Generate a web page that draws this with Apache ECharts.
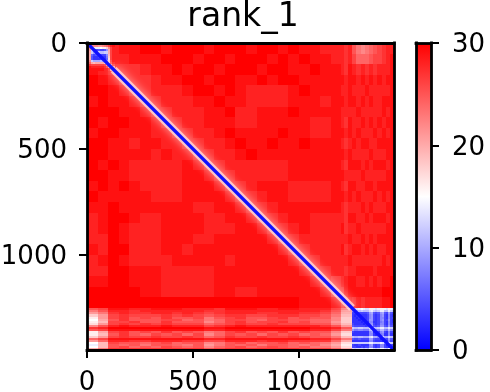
<!DOCTYPE html>
<html><head><meta charset="utf-8">
<style>html,body{margin:0;padding:0;background:#fff}#c{width:490px;height:392px}</style>
<script src="https://cdn.jsdelivr.net/npm/echarts@6/dist/echarts.min.js"></script>
</head><body><div id="c"></div>
<script>
const titleText = 'rank_1';
const xTicks = [0, 500, 1000];
const yTicks = [0, 500, 1000];
const cbTicks = [0, 10, 20, 30];
const axisMax = 1448;
const fieldStep = 50;
const field = [
[28,28,28,29,29,30,30,29,30,30,30,29,30,30,30,29,30,30,29,30,29,29,28,28,28],
[28,28,28,28,29,29,29,30,30,30,29,30,30,29,30,30,30,29,30,29,30,29,29,28,28],
[29,28,27,27,27,28,29,29,30,29,30,30,29,30,30,30,29,30,30,29,29,30,29,29,28],
[30,29,28,27,27,27,28,29,29,30,30,29,30,30,29,29,30,29,30,30,29,29,29,29,29],
[30,30,29,28,27,27,28,28,28,29,30,30,29,30,29,28,28,28,28,29,30,29,29,29,28],
[29,30,29,29,28,27,27,28,28,28,29,29,30,29,29,28,28,28,28,29,29,29,28,29,29],
[30,30,30,29,29,28,27,27,28,28,28,29,29,30,28,28,29,29,29,30,29,29,29,29,28],
[30,29,30,30,29,29,28,27,27,28,28,29,29,29,28,28,29,29,29,29,29,28,28,29,28],
[29,30,30,29,29,29,28,28,27,27,28,28,29,30,29,29,29,29,30,29,29,28,28,29,29],
[30,30,29,29,28,29,29,28,28,27,27,28,28,29,30,29,29,30,29,29,30,29,29,29,28],
[30,30,29,29,29,29,28,29,28,28,27,27,28,28,29,30,29,29,29,29,29,29,29,29,29],
[30,29,30,29,28,28,28,28,28,29,28,27,27,28,28,28,28,28,28,29,29,29,29,29,28],
[30,30,29,29,28,28,28,28,28,29,29,28,27,27,28,28,28,28,28,29,29,29,29,29,29],
[29,30,29,30,29,28,28,28,28,29,29,29,28,27,27,28,29,29,29,28,28,28,28,29,28],
[30,29,29,29,29,29,28,28,28,29,29,29,29,28,27,27,28,29,29,28,28,28,28,29,29],
[29,29,30,29,29,29,29,29,29,29,28,28,29,29,28,27,27,28,29,29,29,29,29,29,28],
[28,29,30,30,29,28,28,29,29,29,29,28,28,29,29,28,27,27,28,29,29,28,28,28,28],
[28,29,30,29,28,28,28,29,29,29,29,28,28,28,29,29,28,27,27,28,29,28,28,28,29],
[28,28,30,29,28,28,28,29,29,29,28,28,29,29,29,29,29,28,27,27,28,28,28,28,28],
[29,28,30,30,28,28,28,29,29,28,29,29,29,29,29,29,29,29,28,27,27,28,28,28,29],
[28,29,30,29,28,28,28,28,29,29,29,29,29,28,29,29,29,29,29,28,27,27,28,28,28],
[28,28,30,30,29,29,29,28,28,28,28,28,29,29,29,29,29,29,29,29,28,27,27,28,28],
[29,29,30,30,29,29,29,28,28,28,28,28,29,29,29,29,29,29,29,29,29,28,27,26,27],
[30,30,30,30,30,29,29,28,28,28,28,28,29,29,28,28,29,29,29,29,29,29,28,26,26],
[30,30,30,30,30,30,30,30,30,30,30,30,30,30,30,30,30,30,30,30,29,29,29,28,26]
];
const stripStart = 1250;
const stripRowStep = 10;
const bottomStrip = [
[25,26,29,29,28,28,29,29,29,28,28,28,27,29,29,29,28,28,29,29,28,28,28,26,23],
[23,25,28,28,27,28,28,28,28,28,28,27,27,28,28,28,28,28,28,28,28,28,27,25,21],
[21,23,27,28,27,27,28,28,27,28,27,26,27,28,28,28,27,27,28,28,27,27,26,24,20],
[18,21,26,27,26,26,26,27,26,27,26,25,26,27,27,26,26,27,27,27,26,26,25,23,19],
[16,21,26,27,25,26,25,27,25,25,26,23,25,26,27,25,25,26,27,25,26,25,25,22,18],
[15,20,25,27,25,25,25,26,26,24,25,23,24,26,26,25,24,26,26,25,25,24,24,22,18],
[16,19,26,26,27,25,25,27,25,25,25,22,24,26,27,25,26,26,27,25,26,24,24,21,18],
[17,21,26,27,26,27,26,27,26,26,26,24,25,26,27,26,26,27,26,26,26,25,25,22,19],
[22,25,28,29,28,28,28,29,28,28,28,26,27,28,29,28,28,28,28,28,28,28,27,25,21],
[27,28,30,30,30,30,30,30,30,30,30,29,29,30,30,30,30,30,30,30,30,29,29,28,25],
[25,26,29,29,29,29,29,29,29,29,29,28,28,29,29,29,29,29,29,29,29,28,28,26,23],
[16,20,26,27,25,26,25,27,25,26,25,23,24,26,27,25,26,25,27,25,26,25,25,22,18],
[16,19,25,27,25,24,26,25,26,24,26,22,24,26,25,26,24,26,25,26,24,25,24,21,17],
[18,21,26,27,26,26,27,26,26,27,26,24,25,27,26,26,27,26,26,27,26,25,25,23,19],
[24,26,29,29,29,29,29,29,29,29,29,28,28,29,29,29,29,29,29,29,29,28,28,26,23],
[21,24,28,28,27,27,28,28,28,27,27,26,26,28,28,28,27,28,28,27,27,27,27,24,20],
[15,19,26,25,25,24,25,26,24,25,25,22,23,25,26,24,25,25,26,24,25,24,23,21,17],
[14,19,25,24,25,23,25,25,24,23,25,21,23,25,24,25,23,25,25,24,23,24,22,20,16],
[15,19,25,26,24,25,24,26,25,24,25,22,24,25,26,24,25,26,25,24,25,23,23,21,17],
[20,23,27,27,27,27,27,27,27,27,27,25,26,27,27,27,27,27,27,27,26,26,26,24,20]
];
const rightStart = 1210;
const rightColStep = 20;
const rightStrip = [
[27,28,25,23,22,23,24,25,26,27,28,28],
[27,28,26,24,24,24,25,26,26,27,28,29],
[27,29,28,27,28,27,28,27,28,28,28,29],
[28,29,29,28,29,28,29,28,29,28,29,29],
[28,29,28,28,28,29,28,28,28,28,28,29],
[28,29,29,28,29,28,29,28,28,29,29,29],
[28,28,28,29,28,28,28,28,28,29,28,29],
[27,29,28,28,29,28,29,28,29,28,29,29],
[28,29,28,29,28,28,28,29,28,29,28,29],
[27,28,29,28,29,29,28,28,29,29,29,29],
[28,29,28,28,28,28,29,28,28,28,29,29],
[27,29,29,29,28,29,28,29,29,29,28,29],
[28,28,28,28,29,28,28,28,28,28,29,29],
[27,29,29,28,28,29,29,28,29,29,29,29],
[28,29,28,29,28,28,28,29,28,29,28,29],
[27,28,28,28,29,28,29,28,28,28,29,29],
[27,29,29,28,28,29,28,29,29,29,28,29],
[27,28,28,29,28,28,28,28,28,28,29,29],
[28,29,28,28,29,28,29,28,29,29,29,29],
[27,28,29,29,28,29,28,29,28,28,29,29],
[28,29,28,28,28,28,28,28,28,29,28,29],
[27,28,28,29,29,29,29,28,29,29,29,29],
[28,29,29,28,28,29,28,29,28,29,29,30],
[28,29,29,29,29,29,29,29,29,30,30,30],
[27,28,27,28,27,28,28,28,28,29,29,30]
];
const cornerStep = 10;
const corner = [
[10,12,13,14,15,14,13,13,16,16,14,13,14,16,16,14,13,16,14,13],
[ 7, 8,10,11,12,11,11,11,13,14,12,11,12,14,14,11,11,14,12,11],
[ 3, 3, 4, 4, 4, 4, 4, 5, 9,10, 5, 4, 5, 9,10, 5, 4, 9, 5, 4],
[ 3, 2, 3, 3, 3, 3, 3, 4, 8, 9, 4, 3, 4, 8, 9, 4, 3, 8, 4, 3],
[ 3, 3, 2, 3, 3, 3, 3, 4, 8, 9, 4, 3, 4, 8, 8, 4, 3, 8, 4, 4],
[ 3, 3, 3, 2, 3, 3, 3, 4, 9, 9, 4, 3, 4, 8, 9, 4, 4, 9, 4, 3],
[ 3, 3, 3, 3, 2, 3, 3, 3, 8, 8, 3, 3, 4, 7, 8, 4, 3, 8, 4, 3],
[ 4, 3, 3, 3, 3, 2, 3, 3, 8, 9, 4, 3, 4, 8, 8, 4, 3, 8, 4, 4],
[ 5, 4, 4, 4, 4, 4, 3, 4, 9,10, 5, 4, 5, 9, 9, 5, 4, 9, 5, 5],
[12,11,11,12,12,11,11,11,14,15,12,11,12,14,14,11,11,14,12,12],
[ 9, 7, 7, 8, 8, 7, 7, 7,11,12, 8, 7, 8,11,11, 8, 7,11, 8, 8],
[ 4, 3, 3, 3, 3, 3, 3, 3, 8, 9, 2, 3, 4, 8, 9, 4, 3, 8, 4, 4],
[ 3, 3, 3, 3, 3, 3, 3, 3, 8, 8, 3, 2, 3, 7, 8, 3, 3, 8, 3, 3],
[11,10,10,11,11,10,10,10,13,14,10,10, 8,13,13,10,10,13,11,11],
[ 5, 4, 4, 5, 4, 4, 4, 4, 9, 9, 5, 4, 4, 2, 9, 5, 4, 9, 5, 5],
[ 3, 3, 3, 3, 3, 3, 3, 3, 8, 8, 4, 3, 3, 3, 2, 4, 3, 8, 4, 4],
[12,12,12,12,12,12,12,12,14,14,12,12,12,14,13, 8,12,14,12,12],
[ 4, 3, 3, 4, 3, 3, 3, 3, 8, 9, 4, 3, 4, 8, 8, 4, 2, 8, 4, 4],
[ 4, 4, 3, 3, 4, 3, 4, 4, 8, 8, 4, 3, 4, 8, 8, 4, 3, 2, 4, 4],
[13,12,13,13,13,12,13,12,15,15,13,12,13,15,15,13,12,15, 8, 2]
];
const blockStep = 10;
const topBlock = [
[ 8,24,27,27,27,27,27,27,28,28,28,29,29],
[24, 8,22,22,22,21,21,22,23,24,26,28,29],
[27,22, 8,16,14,14,15,16,16,18,22,26,28],
[27,21,13, 6, 4, 5, 4, 4, 5, 9,20,26,28],
[27,20,12, 9, 6,12,11,11,12,12,20,26,28],
[27,20, 6, 4, 5, 6, 4, 4, 4, 8,19,26,28],
[27,20, 5, 3, 3, 4, 5, 3, 3, 7,18,26,28],
[27,20, 5, 3, 3, 3, 4, 6, 3, 6,17,26,28],
[28,22,12,10,10,10,11,10, 6, 9,18,25,28],
[28,24,20,19,20,20,20,20,18, 6,17,24,27],
[29,27,26,26,26,26,26,26,25,20, 8,20,25],
[30,29,28,28,28,28,28,28,27,25,20, 8,20],
[30,29,29,29,29,29,29,29,28,28,26,20,10]
];
const haloDiagonal = [[125,125],[1250,1250]];
const coreDiagonal = [[0,0],[1448,1448]];
const bwr = ['#0000ff','#ffffff','#ff0000'];
const cbRange = [0, 30];

const cells = [];
function addLayer(m, x0, y0, dx, dy){
  m.forEach((row, j) => row.forEach((v, i) => {
    cells.push([x0+i*dx, x0+(i+1)*dx, y0+j*dy, y0+(j+1)*dy, v]);
  }));
}
addLayer(field, 0, 0, fieldStep, fieldStep);
addLayer(rightStrip, rightStart, 0, rightColStep, fieldStep);
addLayer(bottomStrip, 0, stripStart, fieldStep, stripRowStep);
addLayer(corner, stripStart, stripStart, cornerStep, cornerStep);
addLayer(topBlock, 0, 0, blockStep, blockStep);

const plainNum = (v) => String(v);
const font = {fontFamily:'DejaVu Sans', fontSize:26, color:'#000', formatter:plainNum};
const vFont = {fontFamily:'DejaVu Sans', fontSize:26, color:'#000',
  formatter:(v) => '{n|' + v + '}',
  rich:{n:{fontFamily:'DejaVu Sans', fontSize:26, color:'#000', padding:[5,0,0,0]}}};
const spine = {show:true, onZero:false, lineStyle:{color:'#000', width:2.8, cap:'square'}};
const bareAxis = (o) => Object.assign({type:'value', min:0, max:axisMax, z:10, axisLine:spine,
  axisTick:{show:false}, axisLabel:{show:false}, splitLine:{show:false}}, o);
const tickStyle = {show:true, length:8, lineStyle:{color:'#000', width:2}};

const chart = echarts.init(document.getElementById('c'), null, {renderer:'canvas'});
chart.setOption({
  animation:false,
  backgroundColor:'#fff',
  title:{text:titleText, left:238, top:-4, textAlign:'center',
    textStyle:{fontFamily:'DejaVu Sans', fontSize:33, fontWeight:'normal', color:'#000'}},
  grid:[
    {left:87, top:43, width:307, height:307, show:false, outerBoundsMode:'none'},
    {left:416, top:43, width:15, height:307, show:false, outerBoundsMode:'none'}
  ],
  visualMap:{show:false, type:'continuous', min:cbRange[0], max:cbRange[1], dimension:4, seriesIndex:0,
    inRange:{color:bwr}},
  xAxis:[
    bareAxis({gridIndex:0, position:'bottom',
      axisTick:Object.assign({customValues:xTicks}, tickStyle),
      axisLabel:Object.assign({show:true, customValues:xTicks, margin:20, hideOverlap:false}, font)}),
    bareAxis({gridIndex:0, position:'top'}),
    {gridIndex:1, type:'value', min:0, max:1, position:'bottom', z:10, axisLine:spine, axisTick:{show:false}, axisLabel:{show:false}, splitLine:{show:false}},
    {gridIndex:1, type:'value', min:0, max:1, position:'top', z:10, axisLine:spine, axisTick:{show:false}, axisLabel:{show:false}, splitLine:{show:false}}
  ],
  yAxis:[
    bareAxis({gridIndex:0, inverse:true, position:'left',
      axisTick:Object.assign({customValues:yTicks}, tickStyle),
      axisLabel:Object.assign({show:true, customValues:yTicks, margin:20}, vFont)}),
    bareAxis({gridIndex:0, inverse:true, position:'right'}),
    {gridIndex:1, type:'value', min:cbRange[0], max:cbRange[1], position:'right', z:10, axisLine:spine,
      axisTick:Object.assign({customValues:cbTicks}, tickStyle),
      axisLabel:Object.assign({show:true, customValues:cbTicks, margin:21}, vFont), splitLine:{show:false}},
    {gridIndex:1, type:'value', min:cbRange[0], max:cbRange[1], position:'left', z:10, axisLine:spine, axisTick:{show:false}, axisLabel:{show:false}, splitLine:{show:false}}
  ],
  series:[
    {type:'custom', xAxisIndex:0, yAxisIndex:0, data:cells, progressive:0, silent:true, clip:true,
      encode:{x:[0,1], y:[2,3]},
      renderItem(params, api){
        const a = api.coord([api.value(0), api.value(2)]);
        const b = api.coord([api.value(1), api.value(3)]);
        const x = Math.round(a[0]), y = Math.round(a[1]);
        return {type:'rect', shape:{x, y, width:Math.round(b[0])-x, height:Math.round(b[1])-y},
          style:{fill:api.visual('color')}};
      }},
    {type:'line', xAxisIndex:0, yAxisIndex:0, data:haloDiagonal, showSymbol:false, silent:true, z:3,
      lineStyle:{color:'#ffffff', width:8, opacity:0.6, shadowColor:'#ffffff', shadowBlur:10}},
    {type:'line', xAxisIndex:0, yAxisIndex:0, data:coreDiagonal, showSymbol:false, silent:true, z:4,
      lineStyle:{color:'#1010ff', width:3.2}},
    {type:'custom', xAxisIndex:2, yAxisIndex:2, data:[cbRange], silent:true, z:3, clip:false,
      encode:{y:[0,1]},
      renderItem(params, api){
        const top = api.coord([0, api.value(1)]);
        const bot = api.coord([1, api.value(0)]);
        return {type:'rect', shape:{x:top[0], y:top[1], width:bot[0]-top[0], height:bot[1]-top[1]},
          style:{fill:new echarts.graphic.LinearGradient(0,1,0,0,
            bwr.map((c,i)=>({offset:i/(bwr.length-1), color:c})))}};
      }}
  ]
});
</script></body></html>
